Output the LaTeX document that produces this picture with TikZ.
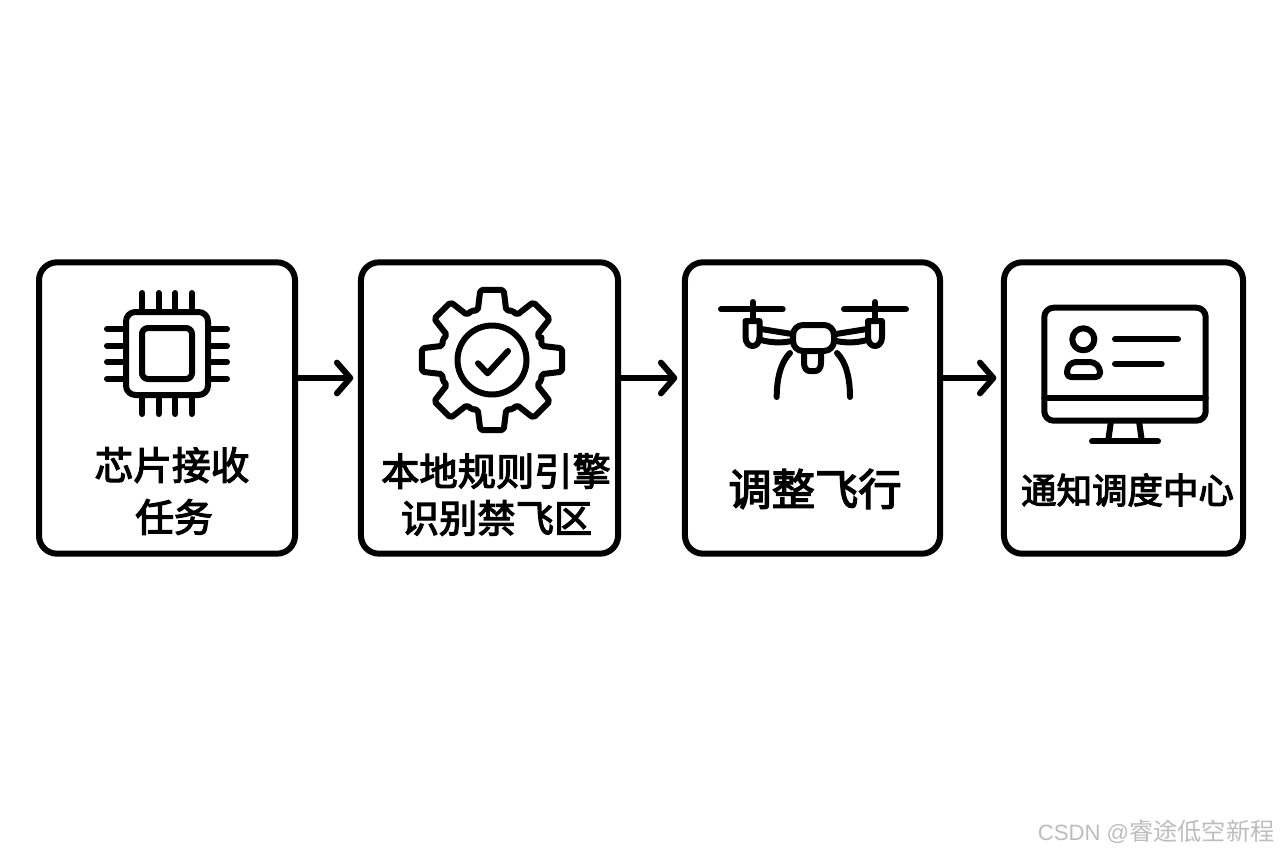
\documentclass[tikz,border=0pt]{standalone}
\usepackage{fontspec}
\usetikzlibrary{arrows.meta}
\setmainfont{Liberation Sans}
\newfontfamily\cjk{Noto Sans CJK SC}
\newfontfamily\cjkm[FakeBold=3.2]{Noto Sans CJK SC}
\tikzset{
  x=0.75pt,y=-0.75pt,
  boxnode/.style={draw=black,line width=4.5pt,fill=white,rounded corners=13.5pt,minimum height=218.5pt,inner sep=0pt},
  icon/.style={draw=black,line width=4.5pt,line cap=round,line join=round},
  flow/.style={draw=black,line width=4.5pt,-{Straight Barb[length=10pt,width=23pt,round,line width=4.5pt]}},
  lab/.style={inner sep=0pt,align=center,text=black},
}
\begin{document}
\begin{tikzpicture}
\useasboundingbox (0,0) rectangle (1280,853);
\fill[white] (0,0) rectangle (1280,853);
% boxes
\node[boxnode,minimum width=192pt] (b1) at (167,408) {};
\node[boxnode,minimum width=192.8pt] (b2) at (489.5,408) {};
\node[boxnode,minimum width=191.3pt] (b3) at (812.5,408) {};
\node[boxnode,minimum width=179.3pt] (b4) at (1123.5,408) {};
% connectors
\draw[flow,shorten >=3.5pt] ([yshift=22.5pt]b1.east) -- ([yshift=22.5pt]b2.west);
\draw[flow,shorten >=3.5pt] ([yshift=22.5pt]b2.east) -- ([yshift=22.5pt]b3.west);
\draw[flow,shorten >=3.5pt] ([yshift=22.5pt]b3.east) -- ([yshift=22.5pt]b4.west);
% chip
\draw[icon] (126,312) [rounded corners=7pt] rectangle (208,395);
\draw[icon] (142,328) [rounded corners=4.5pt] rectangle (192,379);
\foreach \p in {142.3,158.7,175.3,191.7}{
  \draw[icon] (\p,293) -- (\p,312);
  \draw[icon] (\p,395) -- (\p,414);
}
\foreach \p in {329,345.7,362,378.7}{
  \draw[icon] (107,\p) -- (126,\p);
  \draw[icon] (208,\p) -- (227,\p);
}
% gear
\begin{scope}[shift={(492,360)}]
\draw[icon,rounded corners=1.5pt] (-22.5:53.5)
  \foreach \a in {0,45,...,315}{ -- (\a-16:51.5) -- (\a-9.5:71) -- (\a+9.5:71) -- (\a+16:51.5) -- (\a+22.5:53.5) } -- cycle;
\draw[icon] (0,0) circle[radius=34.5];
\draw[icon] (-14,3.3) -- (-4.4,13.3) -- (16,-9);
\end{scope}
% drone
\draw[icon] (721,309.3) -- (782.7,309.3);
\draw[icon] (844,309.3) -- (906,309.3);
\draw[icon] (752.7,302) -- (752.7,320);
\draw[icon] (875,302) -- (875,320);
\draw[icon] (745.5,321) -- (759.5,321) -- (759.5,337) .. controls (759.5,343) and (756,346) .. (752.5,346) .. controls (749,346) and (745.5,343) .. (745.5,337) -- cycle;
\draw[icon] (868,321) -- (882,321) -- (882,337) .. controls (882,343) and (878.5,346) .. (875,346) .. controls (871.5,346) and (868,343) .. (868,337) -- cycle;
\draw[icon] (761,329) -- (792,334);
\draw[icon] (761,340) .. controls (772,343) and (782,343) .. (792,341);
\draw[icon] (867,329) -- (836,334);
\draw[icon] (867,340) .. controls (856,343) and (846,343) .. (836,341);
\draw[icon,rounded corners=7.5pt] (793,325) rectangle (834,351);
\draw[icon] (804,354) -- (804,362) .. controls (804,369) and (807,371) .. (810,371) -- (815,371) .. controls (818,371) and (821,369) .. (821,362) -- (821,354);
\draw[icon] (790,353) .. controls (781,362) and (776.7,378) .. (776.7,397);
\draw[icon] (837,353) .. controls (846,362) and (850,378) .. (850,397);
% monitor
\draw[icon,rounded corners=7pt] (1044.3,307.7) rectangle (1205.7,420.7);
\draw[icon] (1044.3,398) -- (1205.7,398);
\draw[icon] (1083.3,339.3) circle[radius=11];
\draw[icon,rounded corners=3pt] (1067,377) -- (1100,377) -- (1100,368) -- (1094,362) -- (1072,362) -- (1067,368) -- cycle;
\draw[icon] (1115,339.3) -- (1178,339.3);
\draw[icon] (1115,363.7) -- (1161.7,363.7);
\draw[icon] (1110.7,423) -- (1108.3,440);
\draw[icon] (1139.3,423) -- (1141.7,440);
\draw[icon] (1092,441.3) -- (1158,441.3);
% labels
\node[lab,font=\cjkm\fontsize{29pt}{29pt}\selectfont] (t1a) at (172,465) {芯片接收};
\node[lab,font=\cjkm\fontsize{29pt}{29pt}\selectfont] (t1b) at (174,517) {任务};
\node[lab,font=\cjkm\fontsize{28.7pt}{29pt}\selectfont] (t2a) at (496,471) {本地规则引擎};
\node[lab,font=\cjkm\fontsize{28.7pt}{29pt}\selectfont] (t2b) at (496.5,518) {识别禁飞区};
\node[lab,font=\cjkm\fontsize{32.5pt}{33pt}\selectfont] (t3) at (815,489) {调整飞行};
\node[lab,font=\cjkm\fontsize{26.6pt}{27pt}\selectfont] (t4) at (1127.5,490) {通知调度中心};
\node[inner sep=0pt,anchor=east,text=black!26] (wm) at (1275,832) {\fontsize{16.6pt}{18pt}\selectfont CSDN @\cjk\fontsize{18.2pt}{18pt}\selectfont 睿途低空新程};
\end{tikzpicture}
\end{document}
